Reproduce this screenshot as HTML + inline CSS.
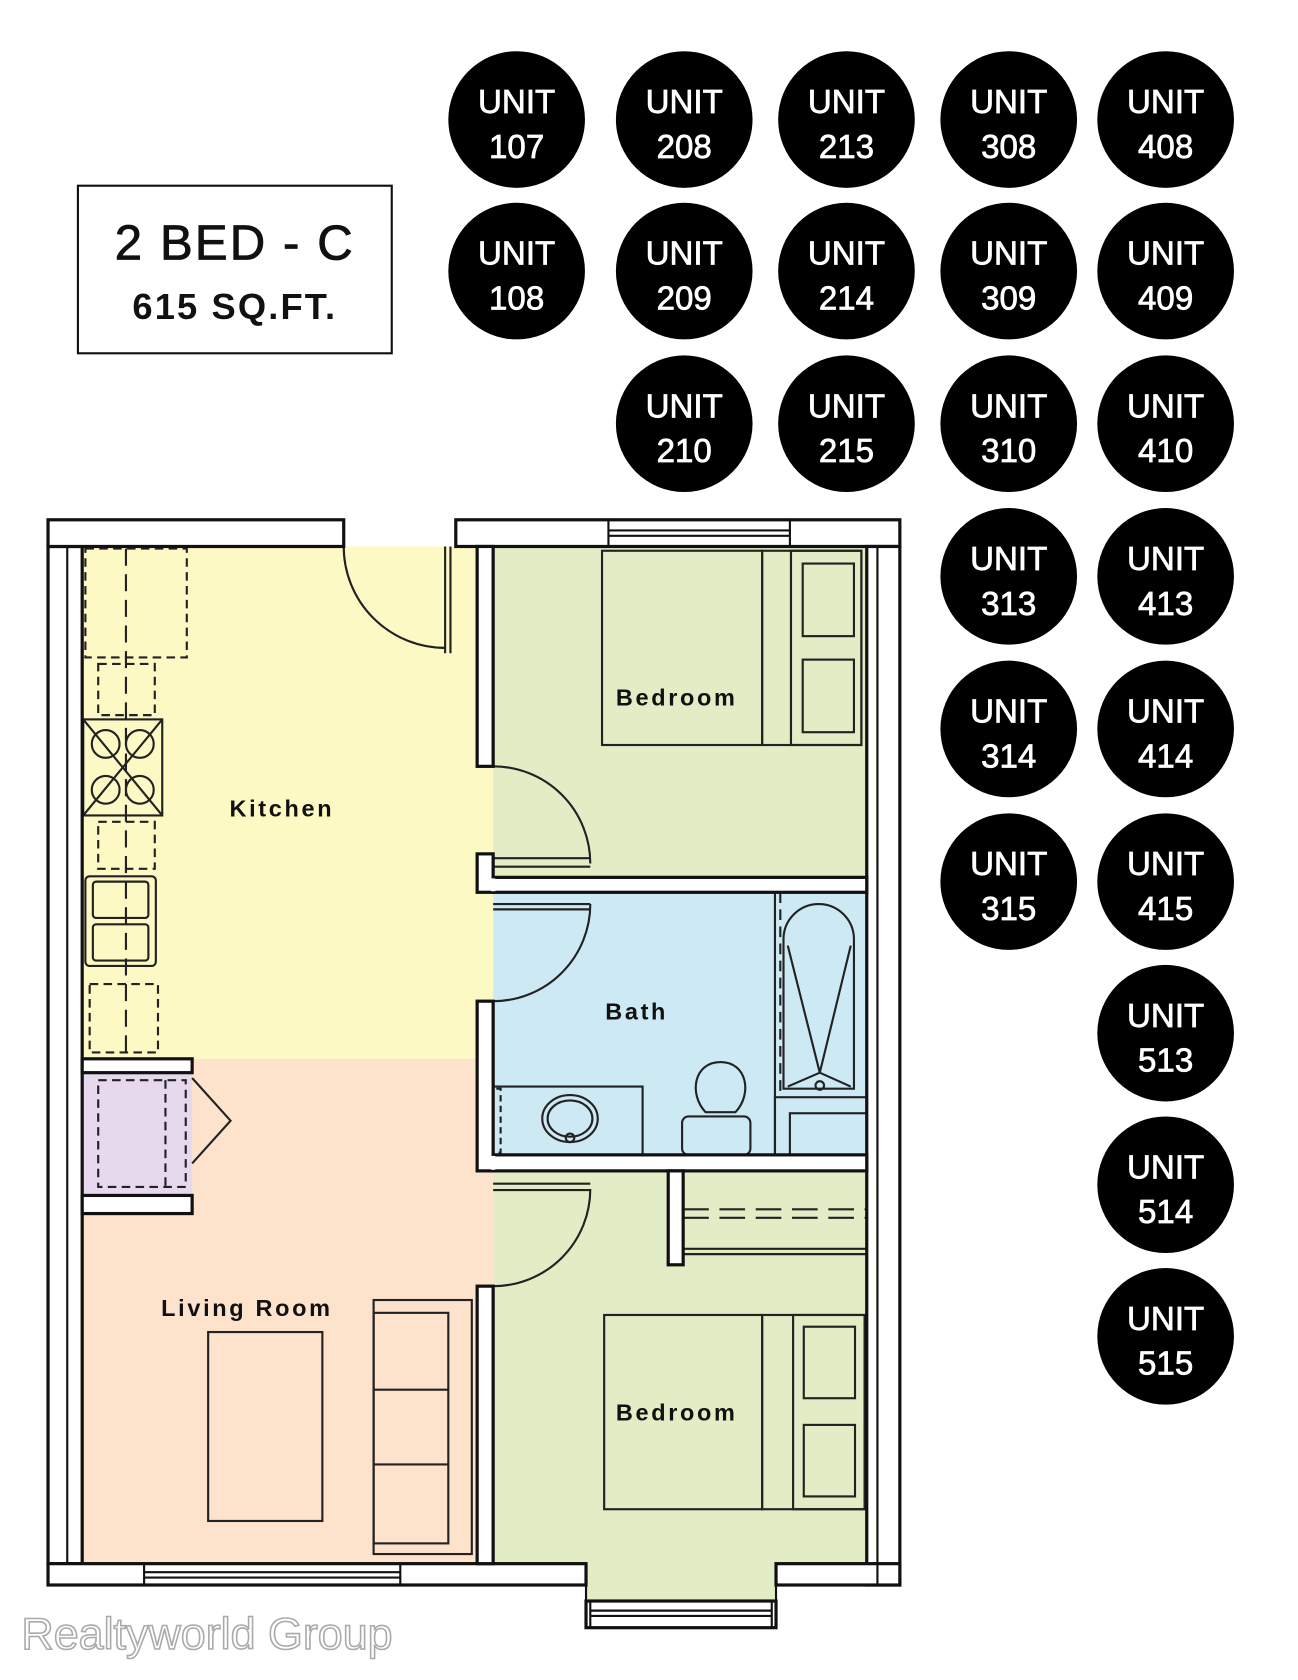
<!DOCTYPE html>
<html><head><meta charset="utf-8"><style>
html,body{margin:0;padding:0;background:#fff;}
svg{display:block;}
text{font-family:"Liberation Sans",sans-serif;}
</style></head><body>
<svg width="1298" height="1680" viewBox="0 0 1216 1574" preserveAspectRatio="none" xmlns="http://www.w3.org/2000/svg">
<rect width="1216" height="1574" fill="#fff"/>
<!-- title -->
<rect x="73" y="174" width="294" height="157" fill="#fff" stroke="#111" stroke-width="2"/>
<text x="220" y="243" font-size="46" text-anchor="middle" fill="#111" stroke="#111" stroke-width="0.8" letter-spacing="2">2 BED - C</text>
<text x="220" y="299" font-size="34" font-weight="bold" text-anchor="middle" fill="#111" letter-spacing="2">615 SQ.FT.</text>
<!-- circles -->
<g fill="#000">
<circle cx="484" cy="112" r="64"/><circle cx="641" cy="112" r="64"/><circle cx="793" cy="112" r="64"/><circle cx="945" cy="112" r="64"/><circle cx="1092" cy="112" r="64"/>
<circle cx="484" cy="254" r="64"/><circle cx="641" cy="254" r="64"/><circle cx="793" cy="254" r="64"/><circle cx="945" cy="254" r="64"/><circle cx="1092" cy="254" r="64"/>
<circle cx="641" cy="397" r="64"/><circle cx="793" cy="397" r="64"/><circle cx="945" cy="397" r="64"/><circle cx="1092" cy="397" r="64"/>
<circle cx="945" cy="540" r="64"/><circle cx="1092" cy="540" r="64"/>
<circle cx="945" cy="683" r="64"/><circle cx="1092" cy="683" r="64"/>
<circle cx="945" cy="826" r="64"/><circle cx="1092" cy="826" r="64"/>
<circle cx="1092" cy="968" r="64"/><circle cx="1092" cy="1110" r="64"/><circle cx="1092" cy="1252" r="64"/>
</g>
<g fill="#fff" stroke="#fff" stroke-width="0.7" font-size="31" text-anchor="middle">
<text x="484" y="106">UNIT</text><text x="484" y="148">107</text>
<text x="641" y="106">UNIT</text><text x="641" y="148">208</text>
<text x="793" y="106">UNIT</text><text x="793" y="148">213</text>
<text x="945" y="106">UNIT</text><text x="945" y="148">308</text>
<text x="1092" y="106">UNIT</text><text x="1092" y="148">408</text>
<text x="484" y="248">UNIT</text><text x="484" y="290">108</text>
<text x="641" y="248">UNIT</text><text x="641" y="290">209</text>
<text x="793" y="248">UNIT</text><text x="793" y="290">214</text>
<text x="945" y="248">UNIT</text><text x="945" y="290">309</text>
<text x="1092" y="248">UNIT</text><text x="1092" y="290">409</text>
<text x="641" y="391">UNIT</text><text x="641" y="433">210</text>
<text x="793" y="391">UNIT</text><text x="793" y="433">215</text>
<text x="945" y="391">UNIT</text><text x="945" y="433">310</text>
<text x="1092" y="391">UNIT</text><text x="1092" y="433">410</text>
<text x="945" y="534">UNIT</text><text x="945" y="576">313</text>
<text x="1092" y="534">UNIT</text><text x="1092" y="576">413</text>
<text x="945" y="677">UNIT</text><text x="945" y="719">314</text>
<text x="1092" y="677">UNIT</text><text x="1092" y="719">414</text>
<text x="945" y="820">UNIT</text><text x="945" y="862">315</text>
<text x="1092" y="820">UNIT</text><text x="1092" y="862">415</text>
<text x="1092" y="962">UNIT</text><text x="1092" y="1004">513</text>
<text x="1092" y="1104">UNIT</text><text x="1092" y="1146">514</text>
<text x="1092" y="1246">UNIT</text><text x="1092" y="1288">515</text>
</g>
<!-- room fills -->
<rect x="77" y="512" width="385" height="480" fill="#fdf9c4"/>
<rect x="77" y="992" width="385" height="473" fill="#fde3cb"/>
<rect x="462" y="512" width="350" height="310" fill="#e2ecc5"/>
<rect x="462" y="836" width="350" height="246" fill="#cde9f3"/>
<rect x="462" y="1097" width="350" height="368" fill="#e2ecc5"/>
<rect x="549" y="1460" width="178" height="40" fill="#e2ecc5"/>
<rect x="77" y="1005" width="103" height="115" fill="#e6d9ee"/>
<g fill="none" stroke="#222" stroke-width="2">
<rect x="80" y="514" width="95" height="102" stroke-dasharray="8 5"/>
<line x1="118" y1="514" x2="118" y2="990" stroke-dasharray="16 8"/>
<rect x="92" y="622" width="53" height="48" stroke-dasharray="8 5"/>
<rect x="78" y="674" width="74" height="90"/>
<line x1="78" y1="674" x2="152" y2="764"/><line x1="152" y1="674" x2="78" y2="764"/>
<circle cx="99" cy="697" r="13"/><circle cx="131" cy="697" r="13"/><circle cx="99" cy="740" r="13"/><circle cx="131" cy="740" r="13"/>
<rect x="92" y="770" width="53" height="44" stroke-dasharray="8 5"/>
<rect x="80" y="821" width="66" height="84" rx="4"/>
<rect x="87" y="826" width="52" height="34" rx="3"/><rect x="87" y="866" width="52" height="34" rx="3"/>
<rect x="84" y="922" width="64" height="64" stroke-dasharray="8 5"/>
<rect x="92" y="1012" width="82" height="100" stroke-dasharray="8 5"/>
<line x1="155" y1="1012" x2="155" y2="1112" stroke-dasharray="8 5"/>
<polyline points="180,1010 216,1050 180,1090"/>
<path d="M322 512 A95 95 0 0 0 417 607"/>
<line x1="417" y1="512" x2="417" y2="612"/><line x1="422" y1="512" x2="422" y2="612"/>
<rect x="564" y="516" width="150" height="182"/>
<rect x="714" y="516" width="93" height="182"/>
<rect x="741" y="516" width="66" height="182"/>
<rect x="752" y="528" width="48" height="68"/><rect x="752" y="618" width="48" height="68"/>
<path d="M462 718 A91 91 0 0 1 553 809"/>
<line x1="462" y1="804" x2="553" y2="804"/><line x1="462" y1="812" x2="553" y2="812"/>
<path d="M462 938 A91 91 0 0 0 553 847"/>
<line x1="462" y1="847" x2="553" y2="847"/><line x1="462" y1="852" x2="553" y2="852"/>
<rect x="462" y="1018" width="140" height="64"/>
<rect x="455" y="1020" width="14" height="60" stroke-dasharray="6 4"/>
<ellipse cx="534" cy="1048" rx="26" ry="22"/><ellipse cx="534" cy="1048" rx="21" ry="17"/>
<circle cx="534" cy="1066" r="4"/>
<path d="M661 1042 C645 1025 650 995 675 995 C700 995 705 1025 689 1042 Z"/>
<rect x="639" y="1046" width="64" height="36" rx="6"/>
<line x1="726" y1="836" x2="726" y2="1082"/>
<line x1="731" y1="836" x2="731" y2="1022" stroke-dasharray="10 6"/>
<path d="M734 1020 V880 A32 32 0 0 1 800 880 V1020 Z"/>
<polyline points="738,886 768,1005 797,886"/>
<line x1="738" y1="1018" x2="768" y2="1005"/><line x1="797" y1="1018" x2="768" y2="1005"/>
<circle cx="768" cy="1017" r="4"/>
<rect x="726" y="1028" width="86" height="54"/>
<rect x="740" y="1043" width="72" height="39"/>
<line x1="640" y1="1133" x2="812" y2="1133" stroke-dasharray="24 10"/>
<line x1="640" y1="1141" x2="812" y2="1141" stroke-dasharray="24 10"/>
<line x1="640" y1="1170" x2="812" y2="1170"/><line x1="640" y1="1175" x2="812" y2="1175"/>
<path d="M462 1205 A91 91 0 0 0 553 1114"/>
<line x1="462" y1="1109" x2="553" y2="1109"/><line x1="462" y1="1115" x2="553" y2="1115"/>
<rect x="566" y="1232" width="148" height="182"/>
<rect x="714" y="1232" width="96" height="182"/>
<rect x="743" y="1232" width="67" height="182"/>
<rect x="753" y="1243" width="48" height="67"/><rect x="753" y="1335" width="48" height="67"/>
<rect x="195" y="1248" width="107" height="177"/>
<rect x="350" y="1218" width="92" height="238"/>
<rect x="350" y="1230" width="70" height="216"/>
<line x1="350" y1="1302" x2="420" y2="1302"/><line x1="350" y1="1372" x2="420" y2="1372"/>
</g>
<!-- walls -->
<g fill="#fff" stroke="#111" stroke-width="3">
<rect x="45" y="512" width="32" height="953"/>
<rect x="45" y="487" width="277" height="25"/>
<rect x="427" y="487" width="416" height="25"/>
<rect x="812" y="512" width="31" height="973"/>
<rect x="45" y="1465" width="504" height="20"/>
<rect x="549" y="1500" width="178" height="25"/>
<rect x="727" y="1465" width="116" height="20"/>
<rect x="447" y="512" width="15" height="206"/>
<rect x="447" y="800" width="15" height="36"/>
<rect x="462" y="822" width="350" height="14"/>
<rect x="447" y="938" width="15" height="159"/>
<rect x="462" y="1082" width="350" height="15"/>
<rect x="626" y="1097" width="14" height="88"/>
<rect x="447" y="1205" width="15" height="260"/>
<rect x="77" y="992" width="103" height="13"/>
<rect x="77" y="1120" width="103" height="17"/>
</g>
<g stroke="#fff" stroke-width="4">
<line x1="462" y1="823" x2="462" y2="835"/><line x1="462" y1="1083" x2="462" y2="1096"/>
</g>
<g stroke="#111" stroke-width="2" fill="none">
<line x1="63" y1="512" x2="63" y2="1465"/>
<line x1="822" y1="512" x2="822" y2="1485"/>
<line x1="549" y1="1485" x2="549" y2="1500"/><line x1="727" y1="1485" x2="727" y2="1500"/>
<line x1="570" y1="487" x2="570" y2="512"/><line x1="740" y1="487" x2="740" y2="512"/>
<line x1="570" y1="497" x2="740" y2="497"/><line x1="570" y1="502" x2="740" y2="502"/>
<line x1="135" y1="1465" x2="135" y2="1485"/><line x1="375" y1="1465" x2="375" y2="1485"/>
<line x1="135" y1="1473" x2="375" y2="1473"/><line x1="135" y1="1478" x2="375" y2="1478"/>
<line x1="553" y1="1500" x2="553" y2="1525"/><line x1="723" y1="1500" x2="723" y2="1525"/>
<line x1="553" y1="1509" x2="723" y2="1509"/><line x1="553" y1="1514" x2="723" y2="1514"/>
</g>
<g font-size="22" font-weight="bold" fill="#111" letter-spacing="2.5">
<text x="215" y="765">Kitchen</text>
<text x="577" y="661">Bedroom</text>
<text x="567" y="955">Bath</text>
<text x="151" y="1233">Living Room</text>
<text x="577" y="1331">Bedroom</text>
</g>
<text x="20" y="1545" font-size="42" fill="#fff" stroke="#aaa" stroke-width="1.5">Realtyworld Group</text>
</svg>
</body></html>
